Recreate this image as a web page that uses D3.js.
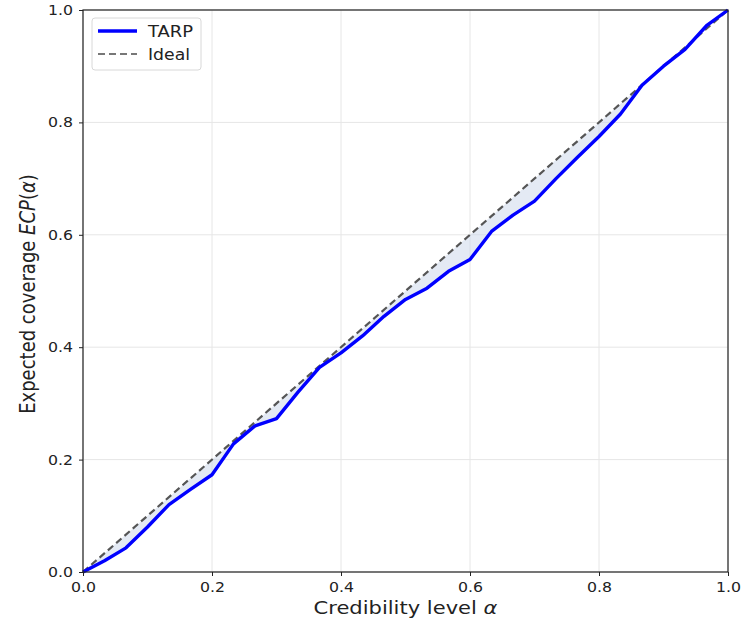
<!DOCTYPE html>
<html lang="en">
<head>
<meta charset="UTF-8">
<title>TARP coverage</title>
<style>
    body { margin: 0; background: #fff; }
    text { font-family: "DejaVu Sans", sans-serif; fill: #222; }
    .axis-label { font-size: 18px; }
</style>
</head>
<body>
<div id="chart"></div>
<script src="https://d3js.org/d3.v7.min.js"></script>
<script>
    // credibility levels (31 bins) and TARP expected coverage
    const alpha = d3.range(31).map(i => i / 30);
    const ecp = [0, 0.02, 0.043, 0.08, 0.12, 0.147, 0.173, 0.228, 0.26, 0.273,
                 0.32, 0.364, 0.39, 0.42, 0.455, 0.485, 0.505, 0.535, 0.556, 0.606,
                 0.635, 0.66, 0.70, 0.738, 0.775, 0.815, 0.866, 0.9, 0.93, 0.972, 1.0];
    const ideal = [0, 1];
    const xTicks = [0, 0.2, 0.4, 0.6, 0.8, 1.0];
    const yTicks = [0, 0.2, 0.4, 0.6, 0.8, 1.0];
    const legendItems = ["TARP", "Ideal"];

    const W = 755, H = 620;
    const margin = { top: 10, right: 27, bottom: 48, left: 83 };
    const width = W - margin.left - margin.right;
    const height = H - margin.top - margin.bottom;

    const svg = d3.select("#chart").append("svg")
        .attr("width", W).attr("height", H);
    const g = svg.append("g")
        .attr("transform", `translate(${margin.left},${margin.top})`);

    const x = d3.scaleLinear().domain([0, 1]).range([0, width]);
    const y = d3.scaleLinear().domain([0, 1]).range([height, 0]);

    // grid
    g.append("g").selectAll("line.gx").data(xTicks).enter().append("line")
        .attr("x1", d => x(d)).attr("x2", d => x(d))
        .attr("y1", 0).attr("y2", height)
        .attr("stroke", "#e6e6e6").attr("stroke-width", 1);
    g.append("g").selectAll("line.gy").data(yTicks).enter().append("line")
        .attr("x1", 0).attr("x2", width)
        .attr("y1", d => y(d)).attr("y2", d => y(d))
        .attr("stroke", "#e6e6e6").attr("stroke-width", 1);

    const pts = alpha.map((a, i) => ({ a: a, v: ecp[i] }));

    // shaded gap between TARP and ideal
    const area = d3.area()
        .x(d => x(d.a))
        .y0(d => y(d.a))
        .y1(d => y(d.v));
    g.append("path").datum(pts)
        .attr("fill", "#c9d6ea").attr("fill-opacity", 0.5)
        .attr("d", area);

    // ideal
    g.append("line")
        .attr("x1", x(ideal[0])).attr("y1", y(ideal[0]))
        .attr("x2", x(ideal[1])).attr("y2", y(ideal[1]))
        .attr("stroke", "#555").attr("stroke-width", 2.2)
        .attr("stroke-dasharray", "7,4");

    // TARP
    const line = d3.line().x(d => x(d.a)).y(d => y(d.v));
    g.append("path").datum(pts)
        .attr("fill", "none")
        .attr("stroke", "#0000ff").attr("stroke-width", 3.4)
        .attr("stroke-linejoin", "round")
        .attr("d", line);

    // axes
    const xAxis = g.append("g")
        .attr("transform", `translate(0,${height})`)
        .call(d3.axisBottom(x).tickValues(xTicks).tickFormat(d3.format(".1f")).tickSizeOuter(0).tickSize(4).tickPadding(6));
    const yAxis = g.append("g")
        .call(d3.axisLeft(y).tickValues(yTicks).tickFormat(d3.format(".1f")).tickSizeOuter(0).tickSize(4).tickPadding(6));
    [xAxis, yAxis].forEach(a => {
        a.select(".domain").remove();
        a.selectAll(".tick line").attr("stroke", "#222").attr("stroke-width", 1);
        a.selectAll(".tick text")
            .attr("fill", "#222")
            .style("font-size", "14px")
            .attr("textLength", 25)
            .attr("lengthAdjust", "spacingAndGlyphs");
    });

    // frame
    g.append("rect")
        .attr("width", width).attr("height", height)
        .attr("fill", "none").attr("stroke", "#222").attr("stroke-width", 1.2);

    // axis labels
    const xl = svg.append("text").attr("class", "axis-label")
        .attr("x", margin.left + width / 2).attr("y", H - 6)
        .attr("text-anchor", "middle")
        .attr("textLength", 184)
        .attr("lengthAdjust", "spacingAndGlyphs");
    xl.append("tspan").text("Credibility level ");
    xl.append("tspan").attr("font-style", "italic").text("α");

    const yl = svg.append("text").attr("class", "axis-label")
        .attr("transform", `translate(35,${margin.top + height / 2 + 3}) rotate(-90) scale(1,1.2)`)
        .attr("text-anchor", "middle");
    yl.append("tspan").text("Expected coverage ");
    yl.append("tspan").attr("font-style", "italic").text("ECP");
    yl.append("tspan").text("(");
    yl.append("tspan").attr("font-style", "italic").text("α");
    yl.append("tspan").text(")");

    // legend
    const lg = g.append("g").attr("transform", "translate(9,8)");
    lg.append("rect")
        .attr("width", 109).attr("height", 52).attr("rx", 3)
        .attr("fill", "#fff").attr("fill-opacity", 0.85)
        .attr("stroke", "#d8d8d8");
    legendItems.forEach((name, i) => {
        const yy = 13 + i * 23;
        lg.append("line")
            .attr("x1", 6).attr("x2", 45).attr("y1", yy).attr("y2", yy)
            .attr("stroke", i === 0 ? "#0000ff" : "#777")
            .attr("stroke-width", i === 0 ? 3.4 : 2.2)
            .attr("stroke-dasharray", i === 0 ? null : "7,4");
        lg.append("text")
            .attr("x", 56).attr("y", yy + 6)
            .style("font-size", "15px")
            .attr("textLength", i === 0 ? 45 : 42)
            .attr("lengthAdjust", "spacingAndGlyphs")
            .text(name);
    });
</script>
</body>
</html>
